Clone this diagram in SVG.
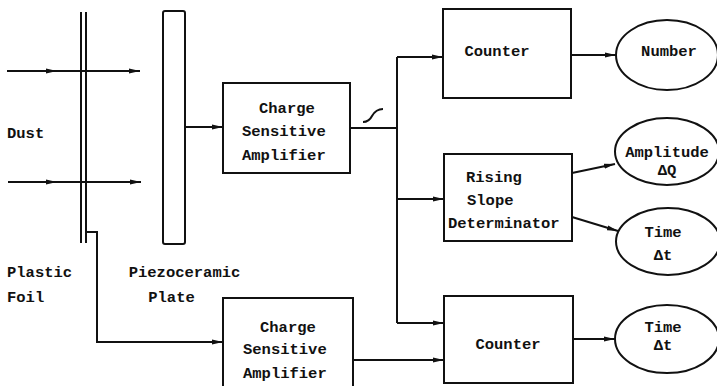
<svg xmlns="http://www.w3.org/2000/svg" width="717" height="386" viewBox="0 0 717 386">
<style>
  .box{fill:#fff;stroke:#111;stroke-width:2}
  .ln{fill:none;stroke:#111;stroke-width:2}
  .arr{fill:none;stroke:#111;stroke-width:2;marker-end:url(#ah)}
  text{font-family:"Liberation Mono","DejaVu Sans Mono",monospace;font-weight:bold;font-size:15.5px;fill:#111}
  .c{text-anchor:middle}
</style>
<defs>
  <marker id="ah" markerUnits="userSpaceOnUse" markerWidth="12" markerHeight="6" refX="11" refY="3" orient="auto">
    <path d="M0,0.5 L11,3 L0,5.5 z" fill="#111"/>
  </marker>
</defs>
<rect width="717" height="386" fill="#fff"/>

<g id="connectors">
  <!-- dust arrows -->
  <path class="ln" d="M7,71 L57,71 L140,71" marker-mid="url(#ah)" marker-end="url(#ah)"/>
  <path class="ln" d="M8,182 L57,182 L141,182" marker-mid="url(#ah)" marker-end="url(#ah)"/>
  <!-- plate to CSA -->
  <path class="arr" d="M185,127 L223,127"/>
  <!-- foil to lower CSA -->
  <path class="arr" d="M86,232 L97,232 L97,342 L223,342"/>
  <!-- CSA output to bus -->
  <path class="ln" d="M350,128 L397,128"/>
  <path class="ln" d="M363,122 Q369,122 372,116 Q376,109 383,109"/>
  <path class="ln" d="M397,57 L397,323"/>
  <path class="arr" d="M397,57 L443,57"/>
  <path class="arr" d="M397,199 L444,199"/>
  <path class="arr" d="M397,323 L444,323"/>
  <!-- lower CSA to counter -->
  <path class="arr" d="M353,360 L444,360"/>
  <!-- outputs -->
  <path class="arr" d="M571,55 L616,55"/>
  <path class="arr" d="M572,173 L615,164"/>
  <path class="arr" d="M572,217 L618,231"/>
  <path class="arr" d="M573,339 L615,339"/>
</g>

<g id="dust-label"><text x="7" y="138">Dust</text></g>

<g id="plastic-foil">
  <path class="ln" d="M81,12 L81,243 M86,12 L86,243"/>
  <text x="7" y="276.5">Plastic</text>
  <text x="7" y="301.5">Foil</text>
</g>

<g id="piezo-plate">
  <rect class="box" x="163" y="11" width="22" height="233" rx="2"/>
  <text class="c" x="184.5" y="276.5">Piezoceramic</text>
  <text class="c" x="171.5" y="301.5">Plate</text>
</g>

<g id="csa-top">
  <rect class="box" x="223" y="83" width="127" height="90"/>
  <text x="259" y="112.5">Charge</text>
  <text x="242" y="135.5">Sensitive</text>
  <text x="242" y="159.5">Amplifier</text>
</g>

<g id="csa-bottom">
  <rect class="box" x="223" y="298" width="130" height="92"/>
  <text x="260" y="331.5">Charge</text>
  <text x="243" y="353.5">Sensitive</text>
  <text x="243" y="377.5">Amplifier</text>
</g>

<g id="counter-top">
  <rect class="box" x="443" y="9" width="128" height="89"/>
  <text class="c" x="497" y="56">Counter</text>
</g>

<g id="rising-slope">
  <rect class="box" x="444" y="154" width="128" height="87"/>
  <text x="466" y="181.5">Rising</text>
  <text x="467" y="204.5">Slope</text>
  <text x="448" y="227.5">Determinator</text>
</g>

<g id="counter-bottom">
  <rect class="box" x="444" y="296" width="129" height="87"/>
  <text class="c" x="508" y="348.5">Counter</text>
</g>

<g id="number">
  <ellipse class="box" cx="667" cy="55" rx="51" ry="35"/>
  <text class="c" x="669" y="55.5">Number</text>
</g>

<g id="amplitude">
  <ellipse class="box" cx="667" cy="151.5" rx="52" ry="33.5"/>
  <text class="c" x="667" y="157">Amplitude</text>
  <text class="c" x="667" y="175">ΔQ</text>
</g>

<g id="time-mid">
  <ellipse class="box" cx="668" cy="241.5" rx="52" ry="33.5"/>
  <text class="c" x="663" y="236.5">Time</text>
  <text class="c" x="663" y="259.5">Δt</text>
</g>

<g id="time-bottom">
  <ellipse class="box" cx="667" cy="339" rx="52" ry="34"/>
  <text class="c" x="663" y="332">Time</text>
  <text class="c" x="663" y="350">Δt</text>
</g>
</svg>
